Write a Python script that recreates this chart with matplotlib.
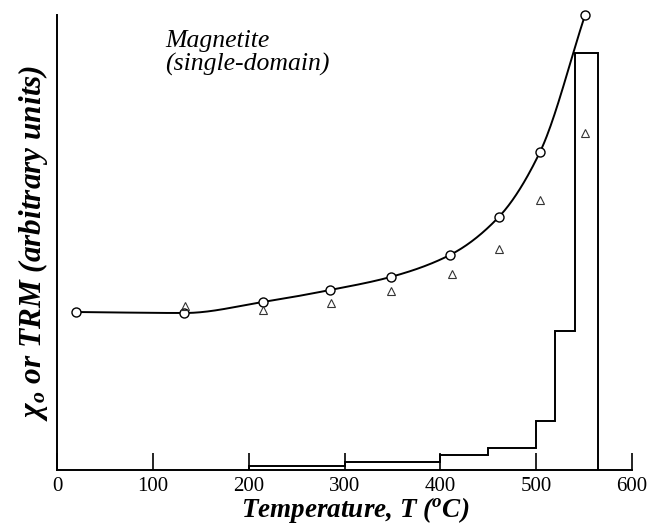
import numpy as np
import matplotlib.pyplot as plt

plt.rcParams['font.family'] = 'Liberation Serif'
plt.rcParams['mathtext.fontset'] = 'custom'
plt.rcParams['mathtext.rm'] = 'Liberation Serif'
plt.rcParams['mathtext.it'] = 'Liberation Serif:italic:bold'
plt.rcParams['mathtext.bf'] = 'Liberation Serif:bold'

# susceptibility (circles) and TRM (triangles), arbitrary units
chi_T = [20, 133, 215, 285, 348, 410, 461, 504, 551]
chi_val = [158, 157, 168, 180, 193, 215, 253, 318, 455]
trm_T = [134, 215, 286, 348, 412, 461, 504, 551]
trm_val = [164, 160, 167, 179, 196, 221, 270, 337]

# blocking temperature spectrum (step histogram)
bin_edges = [200, 300, 400, 450, 500, 520, 540, 565]
bin_heights = [4, 8, 15, 22, 49, 139, 417]


def smooth_curve(x, y, xs):
    # monotone cubic (Fritsch-Carlson) through the circle points
    x = np.asarray(x, float)
    y = np.asarray(y, float)
    h = np.diff(x)
    d = np.diff(y) / h
    m = np.zeros(len(x))
    m[0], m[-1] = d[0], d[-1]
    for i in range(1, len(x) - 1):
        if d[i - 1] * d[i] > 0:
            w1 = 2 * h[i] + h[i - 1]
            w2 = h[i] + 2 * h[i - 1]
            m[i] = (w1 + w2) / (w1 / d[i - 1] + w2 / d[i])
    out = np.empty_like(xs)
    for k, t in enumerate(xs):
        i = int(np.clip(np.searchsorted(x, t) - 1, 0, len(x) - 2))
        s = (t - x[i]) / h[i]
        h00 = 2 * s**3 - 3 * s**2 + 1
        h10 = s**3 - 2 * s**2 + s
        h01 = -2 * s**3 + 3 * s**2
        h11 = s**3 - s**2
        out[k] = h00 * y[i] + h10 * h[i] * m[i] + h01 * y[i + 1] + h11 * h[i] * m[i + 1]
    return out


fig = plt.figure(figsize=(6.51, 5.26), dpi=100)
ax = fig.add_axes([57 / 651, 56 / 526, 575 / 651, 455 / 526])

xs = np.linspace(chi_T[0], chi_T[-1], 400)
ax.plot(xs, smooth_curve(chi_T, chi_val, xs), color='black', lw=1.4, clip_on=False)
ax.plot(chi_T, chi_val, 'o', ms=6.5, mfc='white', mec='black', mew=1.0, clip_on=False, zorder=3)
ax.plot(trm_T, trm_val, '^', ms=5.5, mfc='none', mec='#333333', mew=0.8, clip_on=False, zorder=3)

ax.stairs(bin_heights, bin_edges, color='black', lw=1.4)

ax.set_xlim(0, 600)
ax.set_ylim(0, 455)
ax.spines['top'].set_visible(False)
ax.spines['right'].set_visible(False)
ax.spines['left'].set_linewidth(1.4)
ax.spines['bottom'].set_linewidth(1.4)
ax.set_yticks([])
ax.set_xticks([0, 100, 200, 300, 400, 500, 600])
ax.tick_params(axis='x', direction='in', length=12, width=1.2, labelsize=15, pad=5)

ax.set_xlabel(r'Temperature, $T$ ($^o$C)', fontsize=19.5, style='italic',
              fontweight='bold', labelpad=1)
ax.xaxis.set_label_coords(0.518, -0.055, transform=ax.transAxes)
ax.xaxis.label.set_va('top')
ax.set_ylabel(r'$\chi_o$ or TRM (arbitrary units)', fontsize=22.5, style='italic',
              fontweight='bold', labelpad=5)

ax.text(113, 440, 'Magnetite\n(single-domain)', fontsize=18.5, style='italic',
        ha='left', va='top', linespacing=1.05)

fig.savefig('out.png', dpi=100)
